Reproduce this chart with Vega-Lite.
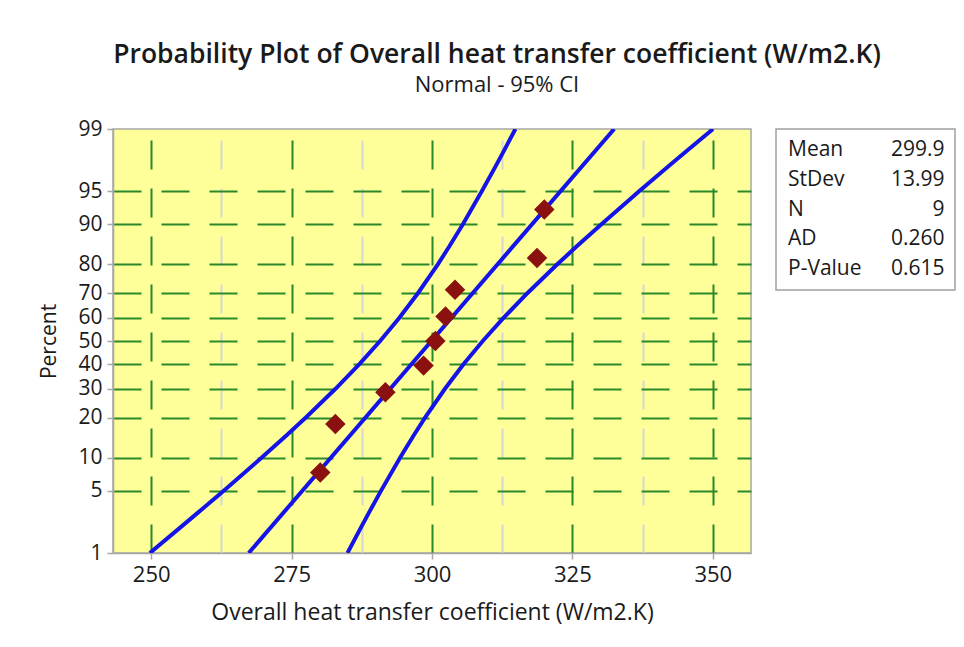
{
  "$schema": "https://vega.github.io/schema/vega-lite/v6.json",
  "background": "white",
  "padding": {"left": 38, "top": 41, "right": 8, "bottom": 8},
  "config": {"font": "Open Sans", "text": {"font": "Open Sans"}},
  "title": {
    "text": "Probability Plot of Overall heat transfer coefficient (W/m2.K)",
    "subtitle": "Normal - 95% CI",
    "anchor": "middle",
    "font": "Open Sans",
    "fontSize": 26.5,
    "fontWeight": 600,
    "color": "#1a1a1a",
    "subtitleFont": "Open Sans",
    "subtitleFontSize": 22,
    "subtitleColor": "#1a1a1a",
    "subtitlePadding": 7,
    "offset": 21
  },
  "spacing": 23,
  "hconcat": [
    {
      "width": 638,
      "height": 424,
      "view": {"fill": "#FFFF99", "stroke": "#A6A6A6", "strokeWidth": 1.5},
      "encoding": {
        "x": {
          "field": "x",
          "type": "quantitative",
          "scale": {"domain": [243.2, 356.8], "nice": false, "zero": false},
          "axis": {
            "title": "Overall heat transfer coefficient (W/m2.K)",
            "values": [250, 262.5, 275, 287.5, 300, 312.5, 325, 337.5, 350],
            "labelExpr": "datum.value % 25 == 0 ? format(datum.value, 'd') : ''",
            "labelFont": "Open Sans",
            "labelFontSize": 22,
            "labelColor": "#1a1a1a",
            "labelPadding": 5,
            "titleFont": "Open Sans",
            "titleFontSize": 23,
            "titleFontWeight": "normal",
            "titleColor": "#1a1a1a",
            "titlePadding": 16,
            "domainColor": "#A6A6A6",
            "domainWidth": 1.5,
            "tickColor": "#A6A6A6",
            "tickWidth": 1.5,
            "tickSize": 6,
            "tickOpacity": {"condition": {"test": "datum.value % 25 != 0", "value": 0}, "value": 1},
            "grid": true,
            "gridColor": {"condition": {"test": "datum.value % 25 != 0", "value": "#D6D6D6"}, "value": "#2A8A2A"},
            "gridWidth": 2,
            "gridDash": [29, 19],
            "gridDashOffset": 37
          }
        },
        "y": {
          "field": "z",
          "type": "quantitative",
          "scale": {"domain": [-2.3263, 2.3263], "nice": false, "zero": false},
          "axis": {
            "title": "Percent",
            "values": [-2.3263, -1.6449, -1.2816, -0.8416, -0.5244, -0.2533, 0, 0.2533, 0.5244, 0.8416, 1.2816, 1.6449, 2.3263],
            "labelExpr": "format(round(cumulativeNormal(datum.value) * 100), 'd')",
            "labelFont": "Open Sans",
            "labelFontSize": 21,
            "labelColor": "#1a1a1a",
            "labelPadding": 5,
            "titleFont": "Open Sans",
            "titleFontSize": 21,
            "titleFontWeight": "normal",
            "titleColor": "#1a1a1a",
            "titlePadding": 18,
            "domainColor": "#A6A6A6",
            "domainWidth": 1.5,
            "tickColor": "#A6A6A6",
            "tickWidth": 1.5,
            "tickSize": 6,
            "grid": true,
            "gridColor": {"condition": {"test": "abs(datum.value) > 2.3", "value": "rgba(0,0,0,0)"}, "value": "#2A8A2A"},
            "gridWidth": 2,
            "gridDash": [28, 20]
          }
        }
      },
      "layer": [
        {
          "data": {
            "values": [
              {"series": "lower", "z": -2.3263, "x": 249.76},
              {"series": "lower", "z": -2.0537, "x": 255.05},
              {"series": "lower", "z": -1.8808, "x": 258.38},
              {"series": "lower", "z": -1.6449, "x": 262.87},
              {"series": "lower", "z": -1.2816, "x": 269.64},
              {"series": "lower", "z": -1.0364, "x": 274.07},
              {"series": "lower", "z": -0.8416, "x": 277.49},
              {"series": "lower", "z": -0.5244, "x": 282.82},
              {"series": "lower", "z": -0.2533, "x": 287.07},
              {"series": "lower", "z": 0, "x": 290.76},
              {"series": "lower", "z": 0.2533, "x": 294.16},
              {"series": "lower", "z": 0.5244, "x": 297.49},
              {"series": "lower", "z": 0.8416, "x": 301.04},
              {"series": "lower", "z": 1.0364, "x": 303.07},
              {"series": "lower", "z": 1.2816, "x": 305.50},
              {"series": "lower", "z": 1.6449, "x": 308.89},
              {"series": "lower", "z": 1.8808, "x": 311.00},
              {"series": "lower", "z": 2.0537, "x": 312.52},
              {"series": "lower", "z": 2.3263, "x": 314.85},
              {"series": "upper", "z": -2.3263, "x": 284.95},
              {"series": "upper", "z": -2.0537, "x": 287.29},
              {"series": "upper", "z": -1.8808, "x": 288.80},
              {"series": "upper", "z": -1.6449, "x": 290.91},
              {"series": "upper", "z": -1.2816, "x": 294.31},
              {"series": "upper", "z": -1.0364, "x": 296.73},
              {"series": "upper", "z": -0.8416, "x": 298.76},
              {"series": "upper", "z": -0.5244, "x": 302.31},
              {"series": "upper", "z": -0.2533, "x": 305.64},
              {"series": "upper", "z": 0, "x": 309.04},
              {"series": "upper", "z": 0.2533, "x": 312.73},
              {"series": "upper", "z": 0.5244, "x": 316.98},
              {"series": "upper", "z": 0.8416, "x": 322.31},
              {"series": "upper", "z": 1.0364, "x": 325.73},
              {"series": "upper", "z": 1.2816, "x": 330.17},
              {"series": "upper", "z": 1.6449, "x": 336.93},
              {"series": "upper", "z": 1.8808, "x": 341.42},
              {"series": "upper", "z": 2.0537, "x": 344.75},
              {"series": "upper", "z": 2.3263, "x": 350.04},
              {"series": "fit", "z": -2.3263, "x": 267.36},
              {"series": "fit", "z": 2.3263, "x": 332.44}
            ]
          },
          "mark": {"type": "line", "color": "#1414E6", "strokeWidth": 4, "clip": true},
          "encoding": {
            "detail": {"field": "series", "type": "nominal"},
            "order": {"field": "z", "type": "quantitative"}
          }
        },
        {
          "data": {
            "values": [
              {"pct": 7.45, "z": -1.443, "x": 280.1},
              {"pct": 18.09, "z": -0.912, "x": 282.8},
              {"pct": 28.72, "z": -0.5617, "x": 291.7},
              {"pct": 39.36, "z": -0.2702, "x": 298.5},
              {"pct": 50.0, "z": 0, "x": 300.6},
              {"pct": 60.64, "z": 0.2702, "x": 302.4},
              {"pct": 71.28, "z": 0.5617, "x": 304.1},
              {"pct": 81.91, "z": 0.912, "x": 318.7},
              {"pct": 92.55, "z": 1.443, "x": 320.0}
            ]
          },
          "mark": {"type": "point", "shape": "diamond", "filled": true, "color": "#8B1010", "opacity": 1, "size": 420}
        }
      ]
    },
    {
      "width": 179,
      "height": 161,
      "view": {"fill": "white", "stroke": "#A0A0A0", "strokeWidth": 1.5},
      "data": {
        "values": [
          {"stat": "Mean", "value": "299.9"},
          {"stat": "StDev", "value": "13.99"},
          {"stat": "N", "value": "9"},
          {"stat": "AD", "value": "0.260"},
          {"stat": "P-Value", "value": "0.615"}
        ]
      },
      "encoding": {
        "y": {"field": "stat", "type": "nominal", "sort": null, "axis": null, "scale": {"type": "point", "padding": 0.72}}
      },
      "layer": [
        {
          "mark": {"type": "text", "align": "left", "baseline": "middle", "font": "Open Sans", "fontSize": 21, "color": "#1a1a1a"},
          "encoding": {
            "x": {"datum": 0.067, "type": "quantitative", "scale": {"domain": [0, 1]}, "axis": null},
            "text": {"field": "stat"}
          }
        },
        {
          "mark": {"type": "text", "align": "right", "baseline": "middle", "font": "Open Sans", "fontSize": 21, "color": "#1a1a1a"},
          "encoding": {
            "x": {"datum": 0.942, "type": "quantitative", "scale": {"domain": [0, 1]}, "axis": null},
            "text": {"field": "value"}
          }
        }
      ]
    }
  ]
}
